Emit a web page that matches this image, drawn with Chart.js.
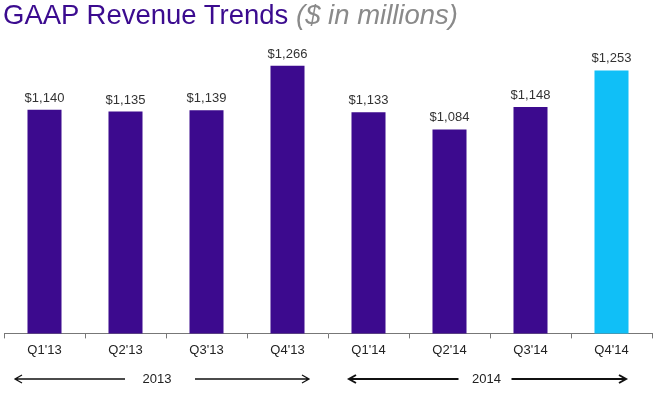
<!DOCTYPE html>
<html>
<head>
<meta charset="utf-8">
<script src="https://cdn.jsdelivr.net/npm/chart.js@4"></script>
<style>
  html, body { margin: 0; padding: 0; background: #fff; }
  #wrap { position: relative; width: 655px; height: 395px; }
  #title {
    position: absolute; left: 3px; top: 0px;
    font-family: "Liberation Sans", Arial, sans-serif; font-size: 27.5px;
    color: #3b0b8f; white-space: nowrap; line-height: 30px;
  }
  #title i { color: #8a8a8a; }
</style>
</head>
<body>
<div id="wrap">
  <canvas id="revenue" width="655" height="395"></canvas>
  <div id="title">GAAP Revenue Trends <i>($ in millions)</i></div>
</div>
<script>
var quarters = ["Q1'13", "Q2'13", "Q3'13", "Q4'13", "Q1'14", "Q2'14", "Q3'14", "Q4'14"];
var revenue = [1140, 1135, 1139, 1266, 1133, 1084, 1148, 1253];
var years = ['2013', '2014'];
var yearSpans = [[0, 3], [4, 7]];

var purple = '#3c0a8e';
var cyan = '#10bff7';

// value labels above each bar
var valueLabels = {
  id: 'valueLabels',
  afterDatasetsDraw: function(chart) {
    var ctx = chart.ctx;
    var meta = chart.getDatasetMeta(0);
    ctx.save();
    ctx.font = '13px "Liberation Sans", Arial, sans-serif';
    ctx.fillStyle = '#333';
    ctx.textAlign = 'center';
    ctx.textBaseline = 'bottom';
    meta.data.forEach(function(bar, i) {
      ctx.fillText('$' + revenue[i].toLocaleString('en-US'), bar.x, bar.y - 5);
    });
    ctx.restore();
  }
};

// year arrows under the axis
var yearArrows = {
  id: 'yearArrows',
  afterDraw: function(chart) {
    var ctx = chart.ctx;
    var xs = chart.scales.x;
    var half = (xs.getPixelForValue(1) - xs.getPixelForValue(0)) / 2;
    var insetL = [11, 21], insetR = [19, 26];
    var gapL = [32, 28], gapR = [38, 25];
    var y = 379;
    ctx.save();
    ctx.font = '13px "Liberation Sans", Arial, sans-serif';
    ctx.fillStyle = '#222';
    ctx.strokeStyle = '#111';
    ctx.textAlign = 'center';
    ctx.textBaseline = 'middle';
    yearSpans.forEach(function(span, k) {
      var left = xs.getPixelForValue(span[0]) - half + insetL[k];
      var right = xs.getPixelForValue(span[1]) + half - insetR[k];
      var mid = (left + right) / 2 + (k === 0 ? -5 : -1);
      ctx.lineWidth = k === 0 ? 1.3 : 2;
      ctx.fillText(years[k], mid, y);
      ctx.beginPath();
      ctx.moveTo(left, y); ctx.lineTo(mid - gapL[k], y);
      ctx.moveTo(mid + gapR[k], y); ctx.lineTo(right, y);
      ctx.moveTo(left + 7, y - 4); ctx.lineTo(left, y); ctx.lineTo(left + 7, y + 4);
      ctx.moveTo(right - 7, y - 4); ctx.lineTo(right, y); ctx.lineTo(right - 7, y + 4);
      ctx.stroke();
    });
    ctx.restore();
  }
};

var chart = new Chart(document.getElementById('revenue'), {
  type: 'bar',
  data: {
    labels: quarters,
    datasets: [{
      data: revenue,
      backgroundColor: revenue.map(function(v, i) { return i === revenue.length - 1 ? cyan : purple; }),
      categoryPercentage: 1,
      barPercentage: 0.42
    }]
  },
  options: {
    responsive: false,
    animation: false,
    layout: { padding: { top: 40, left: 4, right: 3, bottom: 33 } },
    plugins: { legend: { display: false }, tooltip: { enabled: false } },
    scales: {
      y: { display: false, min: 500, max: 1340 },
      x: {
        border: { color: '#777', width: 1 },
        grid: { drawOnChartArea: false, color: '#777', tickLength: 5, offset: true },
        ticks: {
          color: '#222', padding: 4,
          font: { family: '"Liberation Sans", Arial, sans-serif', size: 13 }
        }
      }
    }
  },
  plugins: [valueLabels, yearArrows]
});
</script>
</body>
</html>
